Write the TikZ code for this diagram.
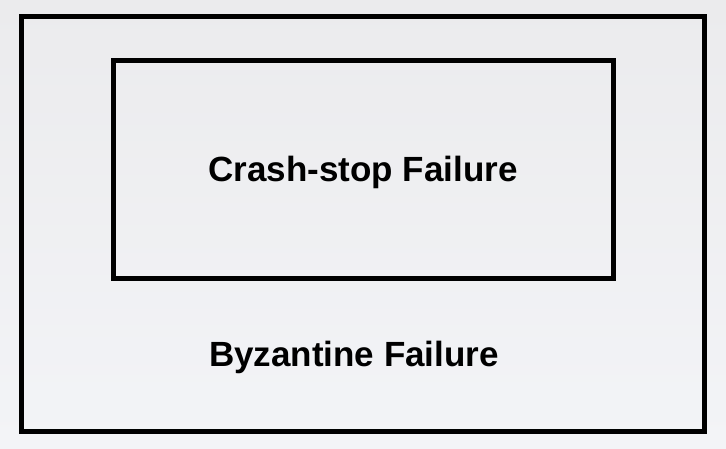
\documentclass[tikz,border=0pt]{standalone}
\usepackage{fontspec}
\setmainfont{Liberation Sans}
\begin{document}
\begin{tikzpicture}[x=1pt,y=1pt,
  frame/.style={draw=black, line width=5pt, inner sep=0pt, outer sep=0pt},
  caption/.style={font=\bfseries\fontsize{35}{42}\selectfont, inner sep=0pt, anchor=base}]
  \definecolor{bgtop}{RGB}{235,235,237}
  \definecolor{bgbot}{RGB}{243,244,247}
  % page background
  \shade[top color=bgtop, bottom color=bgbot] (0,0) rectangle (726,449);
  \useasboundingbox (0,0) rectangle (726,449);
  % nested failure-model boxes
  \node[frame, minimum width=683.5pt, minimum height=415pt] (outer) at (362.75,225) {};
  \node[frame, minimum width=500.5pt, minimum height=218pt] (inner) at (363.25,279) {};
  % labels
  \node[caption] (crash) at (363,267) {Crash-stop Failure};
  \node[caption] (byz) at (354,82) {Byzantine Failure};
\end{tikzpicture}
\end{document}
